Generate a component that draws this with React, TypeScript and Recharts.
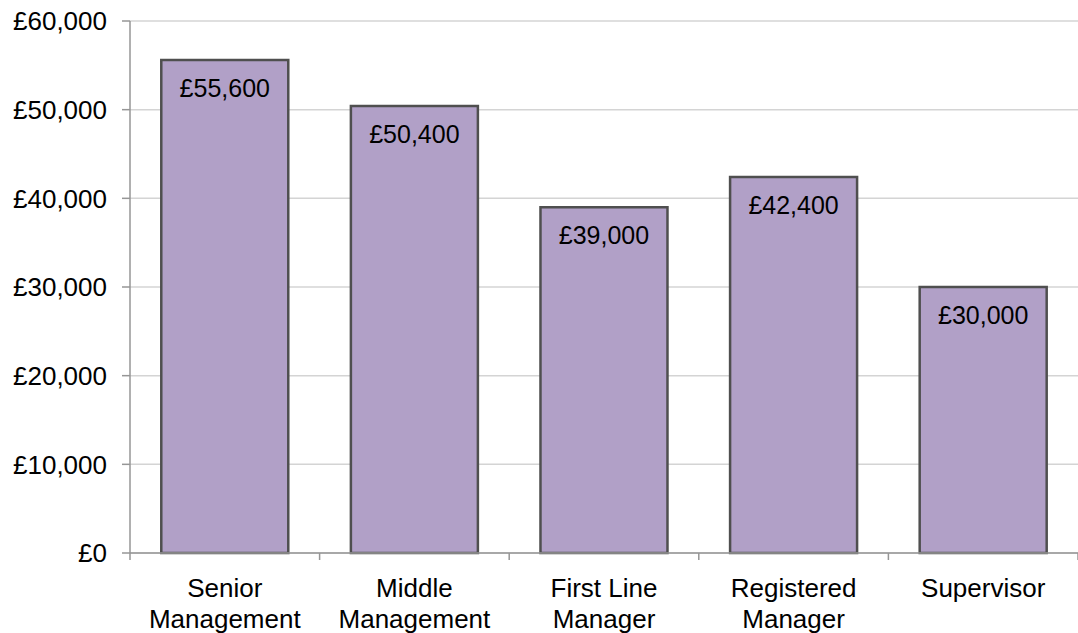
import { BarChart, Bar, XAxis, YAxis, CartesianGrid, LabelList } from 'recharts'

const categories = [
  'Senior\nManagement',
  'Middle\nManagement',
  'First Line\nManager',
  'Registered\nManager',
  'Supervisor',
]
const salaries = [55600, 50400, 39000, 42400, 30000]
const yTicks = [0, 10000, 20000, 30000, 40000, 50000, 60000]

const WIDTH = 1078
const HEIGHT = 633
const Y_AXIS_W = 130
const BAND = (WIDTH - Y_AXIS_W) / categories.length
const FONT = '"Liberation Sans", Arial, sans-serif'
const AXIS_GREY = '#969696'

const money = (v: number) => '£' + v.toLocaleString('en-GB')

function CategoryTick({ x, y, payload, index }: any) {
  const lines = String(payload.value).split('\n')
  const half = BAND / 2
  return (
    <g>
      <line x1={x - half} y1={y} x2={x - half} y2={y + 7} stroke={AXIS_GREY} strokeWidth={1.5} />
      {index === categories.length - 1 && (
        <line x1={x + half} y1={y} x2={x + half} y2={y + 7} stroke={AXIS_GREY} strokeWidth={1.5} />
      )}
      <text x={x} y={y} textAnchor="middle" fontSize={26} fontFamily={FONT} fill="#000">
        {lines.map((l, i) => (
          <tspan key={i} x={x} dy={i === 0 ? 44 : 31}>{l}</tspan>
        ))}
      </text>
    </g>
  )
}

export default function App() {
  const data = categories.map((c, i) => ({ category: c, salary: salaries[i] }))

  return (
    <div style={{ position: 'absolute', left: 0, top: 0, background: '#fff' }}>
      <BarChart
        width={WIDTH}
        height={HEIGHT}
        data={data}
        margin={{ top: 21, right: 0, left: 0, bottom: 0 }}
        barCategoryGap="16.5%"
      >
        <CartesianGrid vertical={false} stroke="#d4d4d4" strokeWidth={1.5} />
        <XAxis
          dataKey="category"
          height={80}
          interval={0}
          stroke={AXIS_GREY}
          strokeWidth={1.5}
          tickLine={false}
          tickSize={0}
          tickMargin={0}
          tick={(p: any) => <CategoryTick {...p} />}
        />
        <YAxis
          width={Y_AXIS_W}
          domain={[0, 60000]}
          ticks={yTicks}
          interval={0}
          stroke={AXIS_GREY}
          strokeWidth={1.5}
          tickSize={8}
          tickMargin={15}
          tickFormatter={money}
          tick={{ fontSize: 26, fill: '#000', fontFamily: FONT }}
        />
        <Bar
          dataKey="salary"
          fill="#b1a0c7"
          stroke="#4f4f4f"
          strokeWidth={2.5}
          isAnimationActive={false}
        >
          <LabelList
            dataKey="salary"
            position="insideTop"
            offset={19}
            formatter={(v: any) => money(Number(v))}
            style={{ fontSize: 25, fill: '#000', fontFamily: FONT }}
          />
        </Bar>
      </BarChart>
    </div>
  )
}
